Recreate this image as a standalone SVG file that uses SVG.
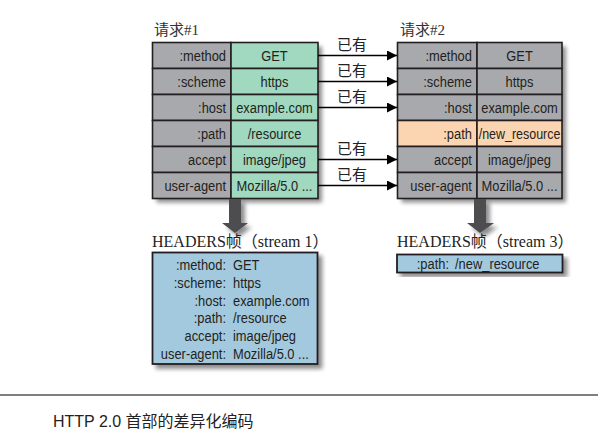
<svg xmlns="http://www.w3.org/2000/svg" width="598" height="436" viewBox="0 0 598 436">
<style>
.cell{stroke:#231f20;stroke-width:1.6}
.g{fill:#a8a9ad}
.m{fill:#a0d9bf}
.o{fill:#fbd5b1}
.b{fill:#a3c9df}
.t{font-family:"Liberation Sans","Noto Sans CJK SC",sans-serif;font-size:15px;fill:#231f20}
.r{text-anchor:end}
.c{text-anchor:middle}
.title{font-family:"Liberation Serif","Noto Sans CJK SC",serif;font-size:15px;fill:#333}
.hdr{font-family:"Liberation Serif","Noto Sans CJK SC",serif;font-size:16px;fill:#222}
.lbl{font-family:"Noto Sans CJK SC",sans-serif;font-size:15px;fill:#222;text-anchor:middle}
.conn{stroke:#000;stroke-width:1.5;fill:none}
.cap{font-family:"Liberation Sans","Noto Sans CJK SC",sans-serif;font-size:16px;fill:#222}
</style>
<defs>
<filter id="sh" x="-10%" y="-10%" width="130%" height="130%">
<feGaussianBlur in="SourceAlpha" stdDeviation="2"/>
<feOffset dx="4" dy="4" result="o"/>
<feComponentTransfer><feFuncA type="linear" slope="0.45"/></feComponentTransfer>
<feMerge><feMergeNode/><feMergeNode in="SourceGraphic"/></feMerge>
</filter>
<marker id="ah" markerUnits="userSpaceOnUse" markerWidth="11" markerHeight="11" refX="10" refY="5" orient="auto">
<path d="M0,0 L10,5 L0,10 z" fill="#000"/>
</marker>
</defs>
<rect width="598" height="436" fill="#fff"/>

<g id="request1">
<text class="title" x="154" y="35">请求#1</text>
<rect x="152.5" y="42.5" width="165.5" height="156" fill="#a8a9ad" filter="url(#sh)"/>
<g class="cell">
<rect class="g" x="152.5" y="42.5" width="78.5" height="26"/><rect class="m" x="231" y="42.5" width="87" height="26"/>
<rect class="g" x="152.5" y="68.5" width="78.5" height="26"/><rect class="m" x="231" y="68.5" width="87" height="26"/>
<rect class="g" x="152.5" y="94.5" width="78.5" height="26"/><rect class="m" x="231" y="94.5" width="87" height="26"/>
<rect class="g" x="152.5" y="120.5" width="78.5" height="26"/><rect class="m" x="231" y="120.5" width="87" height="26"/>
<rect class="g" x="152.5" y="146.5" width="78.5" height="26"/><rect class="m" x="231" y="146.5" width="87" height="26"/>
<rect class="g" x="152.5" y="172.5" width="78.5" height="26"/><rect class="m" x="231" y="172.5" width="87" height="26"/>
</g>
<g transform="scale(0.86,1)">
<text class="t r" x="262.8" y="61">:method</text><text class="t c" x="319.2" y="61">GET</text>
<text class="t r" x="262.8" y="87">:scheme</text><text class="t c" x="319.2" y="87">https</text>
<text class="t r" x="262.8" y="113">:host</text><text class="t c" x="319.2" y="113">example.com</text>
<text class="t r" x="262.8" y="139">:path</text><text class="t c" x="319.2" y="139">/resource</text>
<text class="t r" x="262.8" y="165">accept</text><text class="t c" x="319.2" y="165">image/jpeg</text>
<text class="t r" x="262.8" y="191">user-agent</text><text class="t c" x="319.2" y="191">Mozilla/5.0 ...</text>
</g>
</g>

<g id="request2">
<text class="title" x="400" y="35">请求#2</text>
<rect x="397.5" y="42.5" width="164.5" height="156" fill="#a8a9ad" filter="url(#sh)"/>
<g class="cell">
<rect class="g" x="397.5" y="42.5" width="79.5" height="26"/><rect class="g" x="477" y="42.5" width="85" height="26"/>
<rect class="g" x="397.5" y="68.5" width="79.5" height="26"/><rect class="g" x="477" y="68.5" width="85" height="26"/>
<rect class="g" x="397.5" y="94.5" width="79.5" height="26"/><rect class="g" x="477" y="94.5" width="85" height="26"/>
<rect class="o" x="397.5" y="120.5" width="79.5" height="26"/><rect class="o" x="477" y="120.5" width="85" height="26"/>
<rect class="g" x="397.5" y="146.5" width="79.5" height="26"/><rect class="g" x="477" y="146.5" width="85" height="26"/>
<rect class="g" x="397.5" y="172.5" width="79.5" height="26"/><rect class="g" x="477" y="172.5" width="85" height="26"/>
</g>
<g transform="scale(0.86,1)">
<text class="t r" x="548.8" y="61">:method</text><text class="t c" x="604.1" y="61">GET</text>
<text class="t r" x="548.8" y="87">:scheme</text><text class="t c" x="604.1" y="87">https</text>
<text class="t r" x="548.8" y="113">:host</text><text class="t c" x="604.1" y="113">example.com</text>
<text class="t r" x="548.8" y="139">:path</text><text class="t c" x="604.1" y="139" textLength="95" lengthAdjust="spacingAndGlyphs">/new_resource</text>
<text class="t r" x="548.8" y="165">accept</text><text class="t c" x="604.1" y="165">image/jpeg</text>
<text class="t r" x="548.8" y="191">user-agent</text><text class="t c" x="604.1" y="191">Mozilla/5.0 ...</text>
</g>
</g>

<g id="connectors">
<line class="conn" x1="318" y1="55.5" x2="397" y2="55.5" marker-end="url(#ah)"/>
<line class="conn" x1="318" y1="81.5" x2="397" y2="81.5" marker-end="url(#ah)"/>
<line class="conn" x1="318" y1="107.5" x2="397" y2="107.5" marker-end="url(#ah)"/>
<line class="conn" x1="318" y1="159.5" x2="397" y2="159.5" marker-end="url(#ah)"/>
<line class="conn" x1="318" y1="185.5" x2="397" y2="185.5" marker-end="url(#ah)"/>
<text class="lbl" x="352" y="50">已有</text>
<text class="lbl" x="352" y="76">已有</text>
<text class="lbl" x="352" y="102">已有</text>
<text class="lbl" x="352" y="154">已有</text>
<text class="lbl" x="352" y="180">已有</text>
<path d="M229,199 H241 V223 H248 L235,233 L222,223 H229 Z" fill="#4d4d4f" filter="url(#sh)"/>
<path d="M474,199 H486 V223 H494 L480,233 L467,223 H474 Z" fill="#4d4d4f" filter="url(#sh)"/>
</g>

<g id="frame1">
<text class="hdr" x="152" y="247">HEADERS帧（stream 1）</text>
<rect x="152.5" y="252.5" width="165" height="111.5" class="b" stroke="#231f20" stroke-width="1.8" filter="url(#sh)"/>
<g transform="scale(0.86,1)">
<text class="t r" x="262.8" y="270">:method:</text><text class="t" x="270.9" y="270">GET</text>
<text class="t r" x="262.8" y="288">:scheme:</text><text class="t" x="270.9" y="288">https</text>
<text class="t r" x="262.8" y="306">:host:</text><text class="t" x="270.9" y="306">example.com</text>
<text class="t r" x="262.8" y="323.5">:path:</text><text class="t" x="270.9" y="323.5">/resource</text>
<text class="t r" x="262.8" y="341.5">accept:</text><text class="t" x="270.9" y="341.5">image/jpeg</text>
<text class="t r" x="262.8" y="359.5">user-agent:</text><text class="t" x="270.9" y="359.5">Mozilla/5.0 ...</text>
</g>
</g>

<g id="frame2">
<text class="hdr" x="397" y="247">HEADERS帧（stream 3）</text>
<rect x="397" y="254.5" width="165.5" height="18" class="b" stroke="#231f20" stroke-width="1.8" filter="url(#sh)"/>
<g transform="scale(0.86,1)">
<text class="t r" x="522.1" y="269">:path:</text><text class="t" x="529.1" y="269">/new_resource</text>
</g>
</g>

<line x1="0" y1="395" x2="598" y2="395" stroke="#555" stroke-width="1.3"/>
<text class="cap" x="53" y="427">HTTP 2.0 首部的差异化编码</text>
</svg>
